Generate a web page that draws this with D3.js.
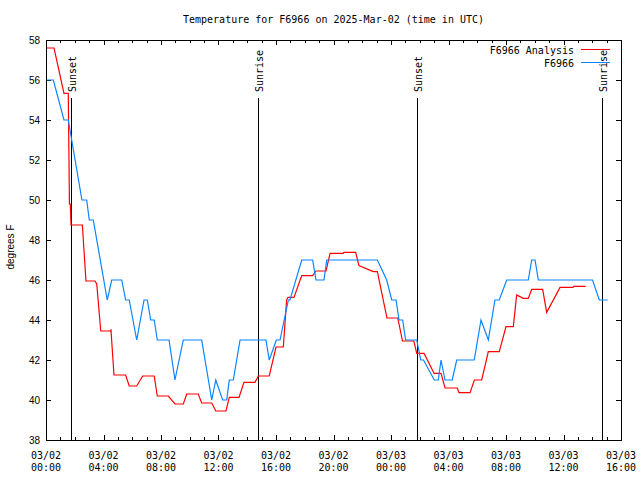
<!DOCTYPE html>
<html><head><meta charset="utf-8">
<script src="https://cdn.jsdelivr.net/npm/d3@7"></script>
<style>
body{margin:0;background:#fff;}
svg{display:block;}
.mono{font-family:"DejaVu Sans Mono",monospace;font-size:10px;}
.sans{font-family:"Liberation Sans",Arial,sans-serif;font-size:10px;}
</style></head>
<body>
<svg id="c" width="640" height="480"></svg>
<script>
// Hours since 2025-03-02 00:00 UTC
const analysisHours = [0,0.56,1.25,1.55,1.63,1.69,1.74,2.53,2.78,3.41,3.53,3.81,4.45,4.52,4.73,5.54,5.79,6.31,6.73,7.53,7.74,8.51,8.97,9.55,9.79,10.59,10.83,11.53,11.81,12.52,12.75,13.43,13.77,14.54,14.77,15.53,16.00,16.51,16.74,16.83,17.25,17.79,18.55,18.78,19.48,19.76,20.68,20.73,21.54,21.77,22.77,23.05,23.72,24.47,24.80,25.59,25.79,26.30,27.00,27.48,27.76,28.61,28.73,29.50,29.80,30.31,30.77,31.53,32.00,32.51,32.74,33.20,33.55,33.79,34.55,34.83,35.76,36.66,36.73,37.54];
const analysisTemps = [57.6,57.6,55.33,55.33,49.8,49.8,48.75,48.75,45.95,45.95,45.8,43.45,43.45,43.5,41.25,41.25,40.7,40.7,41.2,41.2,40.2,40.2,39.8,39.8,40.3,40.3,39.85,39.85,39.45,39.45,40.13,40.13,40.88,40.88,41.2,41.2,42.65,42.65,45.0,45.13,45.13,46.22,46.22,46.45,46.45,47.33,47.33,47.38,47.38,46.72,46.42,46.42,44.1,44.1,42.95,42.95,42.33,42.33,41.33,41.33,40.6,40.6,40.37,40.37,41.0,41.0,42.42,42.42,43.67,43.67,45.25,45.08,45.08,45.53,45.53,44.38,45.63,45.63,45.68,45.68];
const obsHours = [0,0.51,1.25,1.55,2.50,2.83,3.01,3.29,4.26,4.57,5.27,5.54,5.79,6.31,6.82,7.05,7.28,7.53,7.74,8.56,8.97,9.55,10.83,11.53,11.81,12.29,12.57,12.75,13.03,13.50,15.30,15.53,16.02,16.28,16.86,16.97,17.79,18.55,18.78,19.34,19.53,23.05,23.70,24.05,24.35,24.56,24.81,25.02,25.79,26.07,26.26,27.01,27.29,27.48,27.76,28.26,28.57,29.79,30.26,30.77,31.23,31.53,32.05,33.55,33.79,34.02,34.25,38.02,38.49,39.07];
const obsTemps = [56,56,54,54,50,50,49,49,45,46,46,45,45,43,45,45,44,44,43,43,41,43,43,40,41,40,40,41,41,43,43,42,43,43,45,45,47,47,46,46,47,47,46,45,45,44,44,43,43,42,42,41,41,42,41,41,42,42,44,43,45,45,46,46,47,47,46,46,45,45];
const eventHours = [1.76,14.77,25.83,38.70];
const eventLabels = ["Sunset","Sunrise","Sunset","Sunrise"];
const seriesNames = ["F6966 Analysis","F6966"];
const seriesColors = ["#ff0000","#0a84ff"];
const yTicks = [38,40,42,44,46,48,50,52,54,56,58];
const titleText = "Temperature for F6966 on 2025-Mar-02 (time in UTC)";
const yLabel = "degrees F";

const t0 = Date.UTC(2025,2,2,0,0);
const toDate = h => new Date(t0 + h*3600e3);

const L=46,R=621,T=40,B=440;
const svg = d3.select("#c");
const x = d3.scaleUtc().domain([toDate(0), toDate(40)]).range([L,R]);
const y = d3.scaleLinear().domain([38,58]).range([B,T]);

// title
svg.append("text").attr("class","mono").attr("x",(L+R)/2).attr("y",23)
  .attr("text-anchor","middle").text(titleText);

// y label
svg.append("text").attr("class","sans")
  .attr("transform","translate(14,247) rotate(-90)")
  .attr("text-anchor","middle").text(yLabel);

// ticks
const major = d3.utcHour.every(4).range(toDate(0), toDate(40.01));
const minor = d3.utcHour.every(1).range(toDate(0), toDate(40.01));
const tg = svg.append("g").attr("stroke","#000").attr("stroke-width",1).attr("shape-rendering","crispEdges");
minor.forEach(d=>{
  const len = major.some(m=>+m===+d)?5:3;
  const px = Math.round(x(d))+0.5;
  tg.append("line").attr("x1",px).attr("x2",px).attr("y1",B).attr("y2",B-len);
  tg.append("line").attr("x1",px).attr("x2",px).attr("y1",T).attr("y2",T+len);
});
yTicks.forEach(v=>{
  const py = Math.round(y(v))+0.5;
  tg.append("line").attr("x1",L).attr("x2",L+5).attr("y1",py).attr("y2",py);
  tg.append("line").attr("x1",R).attr("x2",R-5).attr("y1",py).attr("y2",py);
  svg.append("text").attr("class","sans").attr("x",40).attr("y",y(v)+3.5)
    .attr("text-anchor","end").text(v);
});
const fmtD = d3.utcFormat("%m/%d"), fmtT = d3.utcFormat("%H:%M");
major.forEach(d=>{
  const t = svg.append("text").attr("class","mono").attr("text-anchor","middle");
  t.append("tspan").attr("x",x(d)).attr("y",459).text(fmtD(d));
  t.append("tspan").attr("x",x(d)).attr("y",471).text(fmtT(d));
});

// event lines
eventHours.forEach((h,i)=>{
  const px = Math.round(x(toDate(h)))+0.5;
  svg.append("line").attr("x1",px).attr("x2",px).attr("y1",98).attr("y2",B)
    .attr("stroke","#000").attr("stroke-width",1).attr("shape-rendering","crispEdges");
  svg.append("text").attr("class","mono")
    .attr("transform",`translate(${px+4.5},92) rotate(-90)`)
    .attr("text-anchor","start").text(eventLabels[i]);
});

// series
const line = d3.line().x(d=>x(d[0])).y(d=>y(d[1]));
const redData = analysisHours.map((h,i)=>[toDate(h),analysisTemps[i]]);
const blueData = obsHours.map((h,i)=>[toDate(h),obsTemps[i]]);
[redData, blueData].forEach((data,i)=>{
  svg.append("path").attr("d",line(data)).attr("fill","none")
    .attr("stroke",seriesColors[i]).attr("stroke-width",1.2);
});

// legend
seriesNames.forEach((n,i)=>{
  const ly = 50 + i*13;
  svg.append("text").attr("class","mono").attr("x",574).attr("y",ly+4)
    .attr("text-anchor","end").text(n);
  svg.append("line").attr("x1",581).attr("x2",610).attr("y1",ly-0.5).attr("y2",ly-0.5)
    .attr("stroke",seriesColors[i]).attr("stroke-width",1).attr("shape-rendering","crispEdges");
});

// border
svg.append("rect").attr("x",L+0.5).attr("y",T+0.5).attr("width",R-L).attr("height",B-T)
  .attr("fill","none").attr("stroke","#000").attr("stroke-width",1).attr("shape-rendering","crispEdges");
</script>
</body></html>
